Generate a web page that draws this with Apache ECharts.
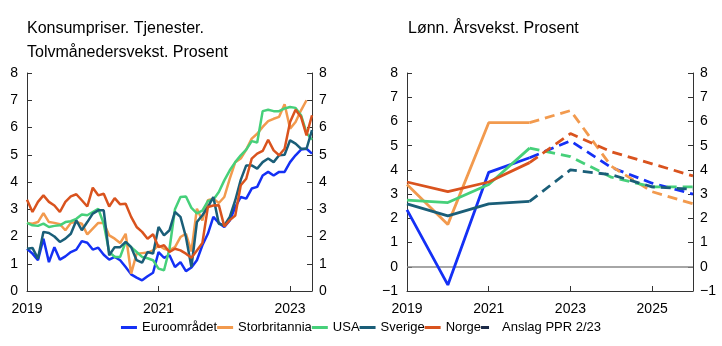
<!DOCTYPE html>
<html>
<head>
<meta charset="utf-8">
<script src="https://cdn.jsdelivr.net/npm/echarts@6/dist/echarts.min.js"></script>
<style>
html,body{margin:0;padding:0;background:#fff;}
#chart{width:722px;height:346px;}
</style>
</head>
<body>
<div id="chart"></div>
<script>
// ---- Left panel: monthly services CPI, Jan 2019 - May 2023 ----
const monthStartYear = 2019;
const monthCount = 53;
const cpiEuro = [1.55,1.37,1.13,1.92,1.06,1.61,1.15,1.27,1.43,1.52,1.83,1.77,1.52,1.59,1.33,1.15,1.25,1.13,0.88,0.61,0.49,0.39,0.54,0.67,1.43,1.22,1.31,0.88,1.06,0.73,0.86,1.13,1.68,2.1,2.72,2.5,2.35,2.59,3.08,3.45,3.39,3.76,3.82,4.24,4.37,4.24,4.37,4.37,4.73,4.98,5.19,5.22,5.04];
const cpiUK = [2.5,2.47,2.53,2.86,2.53,2.5,2.45,2.23,2.5,2.53,2.47,2.08,2.29,2.5,2.5,2.04,1.92,1.76,2.1,0.64,1.37,1.39,1.41,1.49,1.68,1.55,1.49,1.61,1.98,2.1,1.45,3.02,2.59,3.33,3.39,3.23,3.45,4.12,4.73,4.86,5.19,5.59,5.77,6.02,6.23,6.32,6.39,6.85,5.96,6.2,6.63,7.0];
const cpiUSA = [2.5,2.41,2.39,2.47,2.35,2.39,2.41,2.53,2.56,2.65,2.81,2.78,2.9,3.02,2.47,1.43,1.25,1.25,1.8,1.61,1.43,1.25,1.2,1.13,0.82,0.76,1.55,3.0,3.45,3.47,3.05,2.85,2.95,3.3,3.35,3.63,4.06,4.43,4.73,4.98,5.19,5.5,5.45,6.6,6.65,6.6,6.6,6.7,6.75,6.72,6.45,5.8,5.55];
const cpiSweden = [1.55,1.58,1.19,2.17,2.13,2.0,1.8,1.92,2.1,2.59,2.23,2.53,2.84,2.96,2.96,1.31,1.61,1.61,1.8,1.61,1.13,1.04,1.43,1.37,2.35,2.04,2.23,2.9,2.72,1.98,0.88,2.53,2.78,3.08,3.45,2.47,2.41,2.72,3.33,4.08,4.61,4.61,4.49,4.73,4.86,4.73,4.98,5.0,5.53,5.41,5.22,5.22,5.9];
const cpiNorway = [3.35,2.9,3.27,3.51,3.27,3.14,2.9,3.27,3.47,3.55,3.33,3.1,3.79,3.51,3.57,3.1,3.41,3.18,3.2,2.72,2.35,2.17,1.92,2.08,1.61,1.68,1.43,1.55,1.49,1.37,1.22,1.49,1.76,3.08,3.14,3.15,2.37,2.6,2.77,3.88,4.12,4.86,5.04,5.14,5.55,5.16,4.98,5.22,6.2,6.65,6.39,5.71,6.45];

// ---- Right panel: annual wage growth 2019-2026 (2022 onward = forecast PPR 2/23) ----
const wageYears = ['2019','2020','2021','2022','2023','2024','2025','2026'];
const forecastStartIndex = 3; // 2022
const wageEuro   = [2.35,-0.75,3.9,4.5,5.2,4.1,3.45,3.0];
const wageUK     = [3.4,1.75,5.95,5.95,6.45,4.15,3.1,2.6];
const wageUSA    = [2.75,2.65,3.4,4.9,4.55,3.7,3.3,3.3];
const wageSweden = [2.6,2.1,2.6,2.7,4.0,3.8,3.3,3.2];
const wageNorway = [3.5,3.1,3.5,4.3,5.5,4.75,4.25,3.75];

const names = ['Euroområdet','Storbritannia','USA','Sverige','Norge'];
const forecastName = 'Anslag PPR 2/23';
const colors = ['#1430F5','#F29A4E','#46D07A','#1A5E78','#D9531E'];
const forecastColor = '#1B2A47';

const yTickLabels = [-1,0,1,2,3,4,5,6,7,8];

const months = [];
for (let i = 0; i < monthCount; i++) {
  const y = monthStartYear + Math.floor(i / 12);
  const m = (i % 12) + 1;
  months.push(y + '-' + (m < 10 ? '0' + m : m));
}

const cpiData = [cpiEuro, cpiUK, cpiUSA, cpiSweden, cpiNorway];
const wageData = [wageEuro, wageUK, wageUSA, wageSweden, wageNorway];

const FONT = 'Liberation Sans, Arial, sans-serif';
const axisColor = '#333';

function yAxisCfg(gridIndex, pos, min, max) {
  return {
    type: 'value', gridIndex: gridIndex, position: pos, min: min, max: max, interval: 1,
    axisLine: {show: true, lineStyle: {color: axisColor, width: 1}},
    axisTick: {show: true, inside: true, length: 5, lineStyle: {color: axisColor}},
    splitLine: {show: false},
    axisLabel: {color: '#000', fontSize: 14, fontFamily: FONT, margin: pos === 'left' ? 9 : 7,
      formatter: v => String(v).replace('-', '\u2212')}
  };
}

const series = [];
cpiData.forEach((d, k) => {
  series.push({
    name: names[k], type: 'line', xAxisIndex: 0, yAxisIndex: 0, data: d,
    showSymbol: false, symbol: 'none', color: colors[k],
    lineStyle: {width: 2.5, color: colors[k]}, z: 10 + k
  });
});
wageData.forEach((d, k) => {
  const solid = d.map((v, i) => i <= forecastStartIndex ? v : null);
  const dashed = d.map((v, i) => i >= forecastStartIndex ? v : null);
  series.push({
    name: names[k], type: 'line', xAxisIndex: 1, yAxisIndex: 2, data: solid,
    showSymbol: false, symbol: 'none', color: colors[k],
    lineStyle: {width: 2.8, color: colors[k]}, z: 10 + k
  });
  series.push({
    name: names[k], type: 'line', xAxisIndex: 1, yAxisIndex: 2, data: dashed,
    showSymbol: false, symbol: 'none', color: colors[k],
    lineStyle: {width: 2.8, color: colors[k], type: [10, 6]}, z: 10 + k
  });
});
// zero line in right panel
series.push({
  name: 'zero', type: 'line', xAxisIndex: 1, yAxisIndex: 2, data: [],
  markLine: {silent: true, symbol: 'none', label: {show: false},
    lineStyle: {color: '#888', width: 1.5, type: 'solid'}, data: [{yAxis: 0}]},
  z: 1
});
// forecast legend entry
series.push({
  name: forecastName, type: 'line', xAxisIndex: 1, yAxisIndex: 2, data: [],
  color: forecastColor, lineStyle: {color: forecastColor, type: 'dashed'}
});

const chart = echarts.init(document.getElementById('chart'), null, {renderer: 'canvas'});
chart.setOption({
  animation: false,
  backgroundColor: '#fff',
  textStyle: {fontFamily: FONT},
  title: [
    {text: 'Konsumpriser. Tjenester.\nTolvmånedersvekst. Prosent', left: 27, top: 17, padding: 0,
      textStyle: {fontSize: 16, fontWeight: 'normal', color: '#000', fontFamily: FONT, lineHeight: 24}},
    {text: 'Lønn. Årsvekst. Prosent', left: 408, top: 17, padding: 0,
      textStyle: {fontSize: 16, fontWeight: 'normal', color: '#000', fontFamily: FONT, lineHeight: 24}}
  ],
  legend: {
    bottom: 12, left: 'center', itemGap: 0, itemWidth: 16, itemHeight: 3, padding: 0,
    textStyle: {fontSize: 13, color: '#000', fontFamily: FONT},
    data: names.map((n, k) => ({name: n, icon: 'rect'})).concat([
      {name: forecastName, icon: 'path://M0,0h8v3h-8z M15.95,1.45h0.05v0.1h-0.05z'}
    ])
  },
  grid: [
    {left: 27, top: 73, width: 285, height: 218, containLabel: false},
    {left: 407, top: 73, width: 286, height: 218, containLabel: false}
  ],
  xAxis: [
    {type: 'category', gridIndex: 0, data: months, boundaryGap: false,
      axisLine: {show: true, onZero: false, lineStyle: {color: axisColor}},
      axisTick: {show: true, inside: true, length: 5, interval: (i) => i % 24 === 0, lineStyle: {color: axisColor}},
      axisLabel: {interval: (i) => i % 24 === 0, formatter: v => v.slice(0, 4), color: '#000', fontSize: 14, fontFamily: FONT, margin: 11},
      splitLine: {show: false}},
    {type: 'category', gridIndex: 1, data: wageYears, boundaryGap: false,
      axisLine: {show: true, onZero: false, lineStyle: {color: axisColor}},
      axisTick: {show: true, inside: true, length: 5, interval: (i) => i % 2 === 0, lineStyle: {color: axisColor}},
      axisLabel: {interval: (i) => i % 2 === 0, color: '#000', fontSize: 14, fontFamily: FONT, margin: 11},
      splitLine: {show: false}}
  ],
  yAxis: [
    yAxisCfg(0, 'left', 0, 8),
    yAxisCfg(0, 'right', 0, 8),
    yAxisCfg(1, 'left', yTickLabels[0], yTickLabels[yTickLabels.length - 1]),
    yAxisCfg(1, 'right', yTickLabels[0], yTickLabels[yTickLabels.length - 1])
  ],
  series: series
});
</script>
</body>
</html>
